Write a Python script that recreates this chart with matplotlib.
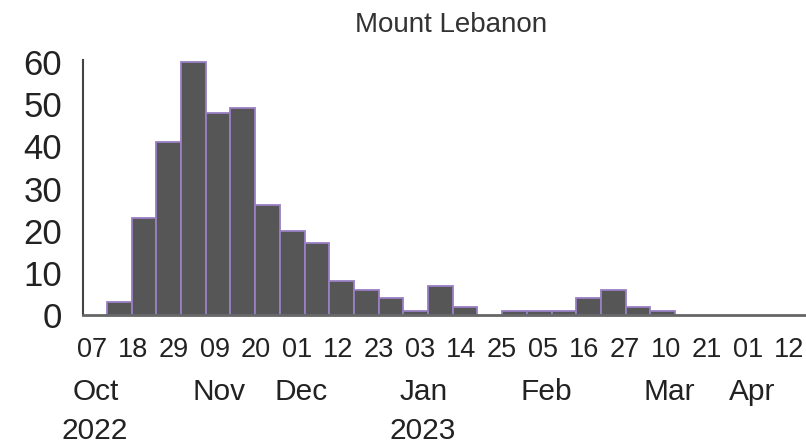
import numpy as np
import matplotlib
matplotlib.use('Agg')
import matplotlib.pyplot as plt

plt.rcParams['font.family'] = ['Liberation Sans', 'DejaVu Sans']

# weekly case counts
cases = [3, 23, 41, 60, 48, 49, 26, 20, 17, 8, 6, 4, 1, 7, 2, 0,
         1, 1, 1, 4, 6, 2, 1, 0, 0, 0, 0, 0]
day_labels = ['07', '18', '29', '09', '20', '01', '12', '23', '03', '14',
              '25', '05', '16', '27', '10', '21', '01', '12']
months = {0: 'Oct', 3: 'Nov', 5: 'Dec', 8: 'Jan', 11: 'Feb', 14: 'Mar', 16: 'Apr'}
years = {0: '2022', 8: '2023'}

weeks = np.arange(len(cases))
ticks = -1.11 + 1.66 * np.arange(len(day_labels))

fig = plt.figure(figsize=(8.06, 4.47), dpi=100)
ax = fig.add_axes([0.103, 0.295, 0.897, 0.571])

edges = ['#9a7fc4' if c > 0 else 'none' for c in cases]
ax.bar(weeks, cases, width=1.0, color='#565656', edgecolor=edges, linewidth=1.3, zorder=2)

ax.set_xlim(-1.47, 27.8)
ax.set_ylim(0, 60.5)

for s in ['top', 'right']:
    ax.spines[s].set_visible(False)
ax.spines['left'].set_color('#444444')
ax.spines['left'].set_linewidth(1.5)
ax.spines['bottom'].set_color('#666666')
ax.spines['bottom'].set_linewidth(2)
ax.spines['bottom'].set_zorder(3)

ax.set_yticks(range(0, 61, 10))
ax.tick_params(axis='y', length=0, pad=15, labelsize=25, labelcolor='#222222')
ax.set_xticks(ticks)
ax.set_xticklabels(day_labels, fontsize=19.5, color='#222222')
ax.tick_params(axis='x', length=0, pad=16)

tr = ax.get_xaxis_transform()
for i, m in months.items():
    ax.text(ticks[i] + 0.15, -0.30, m, transform=tr, ha='center', va='center',
            fontsize=21.5, color='#222222')
for i, y in years.items():
    ax.text(ticks[i] + 0.1, -0.455, y, transform=tr, ha='center', va='center',
            fontsize=21.5, color='#222222')

fig.text(0.56, 0.945, 'Mount Lebanon', ha='center', va='center', fontsize=20, color='#333333')

fig.savefig('out.png', dpi=100)
